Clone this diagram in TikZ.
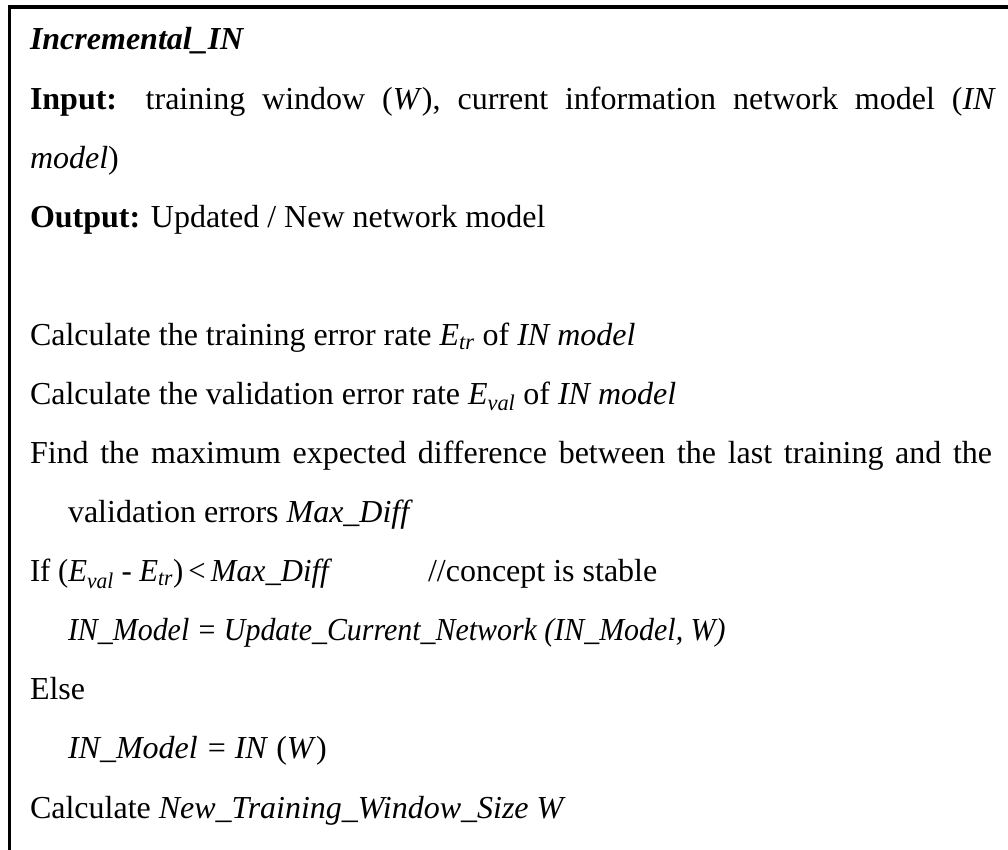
\documentclass[tikz,border=0pt]{standalone}
\usepackage{graphicx}
\usepackage{fontspec}
\setmainfont{Liberation Serif}
\begin{document}
\begin{tikzpicture}[x=1pt,y=-1pt,
  txt/.style={anchor=base west,inner sep=0pt,outer sep=0pt,font=\fontsize{32}{38}\selectfont},
  frame/.style={line width=3.5pt,line join=miter}]
\useasboundingbox (0,0) rectangle (1008,850);
\draw[frame] (9.3,850) -- (9.3,7) -- (1008,7);
\newcommand{\sbi}[1]{\textsubscript{\textit{#1}}}
\node[txt] (title) at (30,50) {\textbf{\textit{Incremental\_IN}}};
\node[txt] (input) at (30,109.5) {\makebox[966pt][s]{\textbf{Input:} training window (\textit{W}), current information network model (\textit{IN}}};
\node[txt] (model) at (30,168.5) {\textit{model})};
\node[txt] (output) at (30,228) {\textbf{Output:} Updated / New network model};
\node[txt] (calctr) at (30,345) {Calculate the training error rate \textit{E}\sbi{tr} of \textit{IN model}};
\node[txt] (calcval) at (30,404) {Calculate the validation error rate \textit{E}\sbi{val} of \textit{IN model}};
\node[txt] (find) at (30,463.5) {\makebox[962pt][s]{Find the maximum expected difference between the last training and the}};
\node[txt] (valerr) at (68,522.5) {validation errors \textit{Max\_Diff}};
\node[txt] (ifline) at (30,581.5) {\scalebox{0.96}[1]{If (\textit{E}\sbi{val} - \textit{E}\sbi{tr})\,<\,\textit{Max\_Diff}}};
\node[txt] (comment) at (428,581.5) {//concept is stable};
\node[txt] (upd) at (68,640.5) {\scalebox{0.935}[1]{\textit{IN\_Model}\hspace{10pt}=\hspace{9pt}\textit{Update\_Current\_Network (IN\_Model, W)}}};
\node[txt] (else) at (30,699.5) {Else};
\node[txt] (newin) at (68,758.5) {\textit{IN\_Model}\hspace{10pt}=\hspace{9pt}\textit{IN} (\textit{W})};
\node[txt] (calcnew) at (30,818) {Calculate \textit{New\_Training\_Window\_Size W}};
\end{tikzpicture}
\end{document}
